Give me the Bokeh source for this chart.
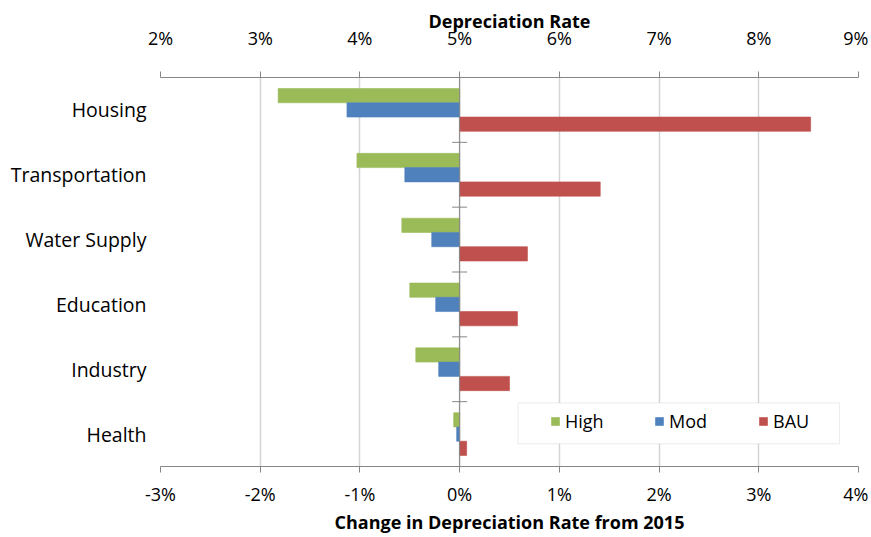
from bokeh.plotting import figure
from bokeh.models import (Range1d, LinearAxis, FixedTicker, PrintfTickFormatter, Span,
                          Legend, LegendItem, BoxAnnotation, ColumnDataSource)
from bokeh.embed import file_html
from bokeh.resources import INLINE

categories = ["Housing", "Transportation", "Water Supply", "Education", "Industry", "Health"]
high = [-1.82, -1.03, -0.58, -0.50, -0.44, -0.06]
mod = [-1.13, -0.55, -0.28, -0.24, -0.21, -0.03]
bau = [3.52, 1.41, 0.68, 0.58, 0.50, 0.07]
series_names = ["High", "Mod", "BAU"]
series_colors = ["#9BBB59", "#4F81BD", "#C0504D"]
x_ticks = [-3, -2, -1, 0, 1, 2, 3, 4]
base_rate = 5  # depreciation rate in 2015 (top axis = change + base)

n = len(categories)
ypos = [n - 1 - i for i in range(n)]
bar_h = 0.22

FONT = "Open Sans"

p = figure(frame_width=698, frame_height=389, output_backend="svg", toolbar_location=None,
           x_range=Range1d(x_ticks[0], x_ticks[-1]), y_range=Range1d(-0.5, n - 0.5),
           min_border_left=160, min_border_right=10, min_border_top=77, min_border_bottom=66,
           background_fill_color="white", border_fill_color="white")
p.outline_line_color = None
p.extra_x_ranges = {"top": Range1d(x_ticks[0] + base_rate, x_ticks[-1] + base_rate)}

renderers = []
for k, (vals, color) in enumerate(zip([high, mod, bau], series_colors)):
    offset = bar_h * (1 - k)
    src = ColumnDataSource(dict(y=[y + offset for y in ypos], right=vals))
    r = p.hbar(y="y", left=0, right="right", height=bar_h, source=src,
               fill_color=color, line_color=color, line_alpha=0.6)
    renderers.append(r)

# zero axis line with category separator ticks
p.add_layout(Span(location=0, dimension="height", line_color="#868686", line_width=1))
p.scatter(x=[0] * (n - 1), y=[i + 0.5 for i in range(n - 1)], marker="dash", size=15,
          line_color="#868686", line_width=1)

# grid
p.xgrid.ticker = FixedTicker(ticks=x_ticks)
p.xgrid.grid_line_color = "#d4d4d4"
p.xgrid.grid_line_width = 1.5
p.ygrid.grid_line_color = None

def style_axis(ax):
    ax.axis_line_color = "#868686"
    ax.major_tick_line_color = "#868686"
    ax.major_tick_out = 6
    ax.major_tick_in = 0
    ax.minor_tick_line_color = None
    ax.major_label_text_font = FONT
    ax.major_label_text_font_size = "18px"
    ax.major_label_text_color = "black"
    ax.axis_label_text_font = FONT
    ax.axis_label_text_font_style = "bold"
    ax.axis_label_text_font_size = "18px"
    ax.axis_label_text_color = "black"

xb = p.xaxis[0]
xb.ticker = FixedTicker(ticks=x_ticks)
xb.formatter = PrintfTickFormatter(format="%d%%")
xb.axis_label = "Change in Depreciation Rate from 2015"
style_axis(xb)
xb.major_label_standoff = 9
xb.axis_label_standoff = 1

xt = LinearAxis(x_range_name="top", ticker=FixedTicker(ticks=[t + base_rate for t in x_ticks]),
                formatter=PrintfTickFormatter(format="%d%%"), axis_label="Depreciation Rate")
style_axis(xt)
xt.major_label_standoff = 22
xt.axis_label_standoff = -10
p.add_layout(xt, "above")

ya = p.yaxis[0]
ya.ticker = FixedTicker(ticks=ypos)
ya.major_label_overrides = {y: c for y, c in zip(ypos, categories)}
ya.axis_line_color = None
ya.major_tick_line_color = None
ya.minor_tick_line_color = None
ya.major_label_standoff = 8
ya.major_label_text_font = FONT
ya.major_label_text_font_size = "19.5px"
ya.major_label_text_color = "black"

# legend frame
p.add_layout(BoxAnnotation(left=0.585, right=3.81, bottom=-0.15, top=0.48,
                           fill_color="white", fill_alpha=1.0,
                           line_color="#bfbfbf", line_width=1, level="annotation"))

legend = Legend(items=[LegendItem(label=s, renderers=[r]) for s, r in zip(series_names, renderers)],
                orientation="horizontal", location=(390, 33), padding=0,
                glyph_width=10, glyph_height=10, label_standoff=5, label_width=42, spacing=47,
                label_text_font=FONT, label_text_font_size="18px", label_text_color="black",
                border_line_color=None, background_fill_alpha=0)
p.add_layout(legend)

open("out.html", "w").write(file_html(p, INLINE))
